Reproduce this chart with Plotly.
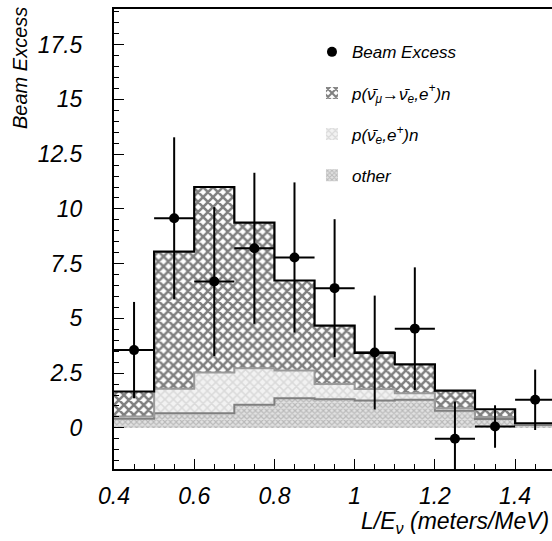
import plotly.graph_objects as go

# ---- data ----
bin_edges = [0.4, 0.5, 0.6, 0.7, 0.8, 0.9, 1.0, 1.1, 1.2, 1.3, 1.4, 1.5]
bin_centers = [0.45, 0.55, 0.65, 0.75, 0.85, 0.95, 1.05, 1.15, 1.25, 1.35, 1.45]
other = [0.42, 0.67, 0.67, 1.05, 1.35, 1.31, 1.25, 1.28, 0.78, 0.40, 0.13]
nue_bkg = [0.10, 1.11, 1.86, 1.67, 1.27, 0.69, 0.52, 0.30, 0.12, 0.09, 0.04]
osc = [1.14, 6.27, 8.47, 6.65, 4.11, 2.67, 1.65, 1.32, 0.80, 0.36, 0.04]
excess = [3.55, 9.57, 6.68, 8.20, 7.78, 6.38, 3.44, 4.53, -0.50, 0.06, 1.28]
excess_err = [2.20, 3.70, 3.40, 3.45, 3.43, 3.15, 2.60, 2.80, 1.70, 0.97, 1.38]
x_half_width = [0.05] * 11

x_ticks = [0.4, 0.6, 0.8, 1.0, 1.2, 1.4]
x_tick_labels = ["0.4", "0.6", "0.8", "1", "1.2", "1.4"]
y_ticks = [0, 2.5, 5, 7.5, 10, 12.5, 15, 17.5]
y_tick_labels = ["0", "2.5", "5", "7.5", "10", "12.5", "15", "17.5"]

lbl_excess = "Beam Excess"
lbl_osc = "p(ν̄<sub>μ</sub>→ν̄<sub>e</sub>,e<sup>+</sup>)n"
lbl_nue = "p(ν̄<sub>e</sub>,e<sup>+</sup>)n"
lbl_other = "other"

# cumulative levels for outlines
lvl_other = other
lvl_mid = [a + b for a, b in zip(other, nue_bkg)]
lvl_tot = [a + b for a, b in zip(lvl_mid, osc)]

FONT = "Liberation Sans, Arial, Helvetica, sans-serif"

fig = go.Figure()

fig.add_trace(go.Bar(
    x=bin_centers, y=other, width=0.1, name=lbl_other,
    marker=dict(color="#c8c8c8", line=dict(width=0),
                pattern=dict(shape="x", fgcolor="#8f8f8f", bgcolor="#e2e2e2",
                             size=4, solidity=0.5)),
    legendrank=4, legendgroup="d"))
fig.add_trace(go.Bar(
    x=bin_centers, y=nue_bkg, width=0.1, name=lbl_nue,
    marker=dict(color="#e8e8e8", line=dict(width=0),
                pattern=dict(shape="x", fgcolor="#c2c2c2", bgcolor="#f2f2f2",
                             size=6, solidity=0.45)),
    legendrank=3, legendgroup="c"))
fig.add_trace(go.Bar(
    x=bin_centers, y=osc, width=0.1, name=lbl_osc,
    marker=dict(color="#333333", line=dict(width=0),
                pattern=dict(shape="x", fgcolor="#000000", bgcolor="white",
                             size=7, solidity=0.6)),
    legendrank=2, legendgroup="b"))

# step outlines
for lv, col, w in [(lvl_other, "#7f7f7f", 2), (lvl_mid, "#9a9a9a", 2), (lvl_tot, "black", 2.2)]:
    fig.add_trace(go.Scatter(
        x=bin_edges, y=list(lv) + [lv[-1]], mode="lines",
        line=dict(shape="hv", color=col, width=w),
        showlegend=False, hoverinfo="skip"))

fig.add_trace(go.Scatter(
    x=bin_centers, y=excess, mode="markers", name=lbl_excess,
    marker=dict(color="black", size=10, symbol="circle"),
    error_y=dict(type="data", array=excess_err, color="black", thickness=2, width=0),
    error_x=dict(type="data", array=x_half_width, color="black", thickness=2, width=0),
    legendrank=1, legendgroup="a"))

fig.update_layout(
    width=552, height=541,
    margin=dict(l=114, r=0, t=9, b=72),
    plot_bgcolor="white", paper_bgcolor="white",
    barmode="stack", bargap=0,
    showlegend=True,
    legend=dict(x=0.452, y=0.945, xanchor="left", yanchor="top",
                bgcolor="rgba(0,0,0,0)", borderwidth=0,
                tracegroupgap=16,
                font=dict(family=FONT, size=17, color="black", style="italic")),
    font=dict(family=FONT, color="black"),
)

fig.update_xaxes(
    range=[0.4, 1.492], showgrid=False, zeroline=False,
    showline=True, linecolor="black", linewidth=2, mirror=True,
    ticks="inside", ticklen=10, tickwidth=1, tickcolor="black",
    tickvals=x_ticks, ticktext=x_tick_labels,
    tickfont=dict(family=FONT, size=23, color="black", style="italic"),
    ticklabelstandoff=5,
    minor=dict(dtick=0.05, tick0=0.4, ticks="inside", ticklen=5, tickwidth=1, tickcolor="black"),
)
fig.update_yaxes(
    range=[-1.88, 19.13], showgrid=False, zeroline=False,
    showline=True, linecolor="black", linewidth=2, mirror=False,
    ticks="inside", ticklen=10, tickwidth=1, tickcolor="black",
    tickvals=y_ticks, ticktext=y_tick_labels,
    tickfont=dict(family=FONT, size=23, color="black", style="italic"),
    ticklabelstandoff=25,
    minor=dict(dtick=0.5, tick0=0, ticks="inside", ticklen=5, tickwidth=1, tickcolor="black"),
)

fig.add_annotation(
    text="Beam Excess", xref="paper", yref="paper",
    x=-0.2146, y=1.0087, xanchor="center", yanchor="top",
    textangle=-90, showarrow=False,
    font=dict(family=FONT, size=20, color="black", style="italic"))
fig.add_annotation(
    text="L/E<sub>ν</sub> (meters/MeV)", xref="paper", yref="paper",
    x=0.998, y=-0.152, xanchor="right", yanchor="bottom",
    showarrow=False,
    font=dict(family=FONT, size=23, color="black", style="italic"))

fig.write_html("out.html")
